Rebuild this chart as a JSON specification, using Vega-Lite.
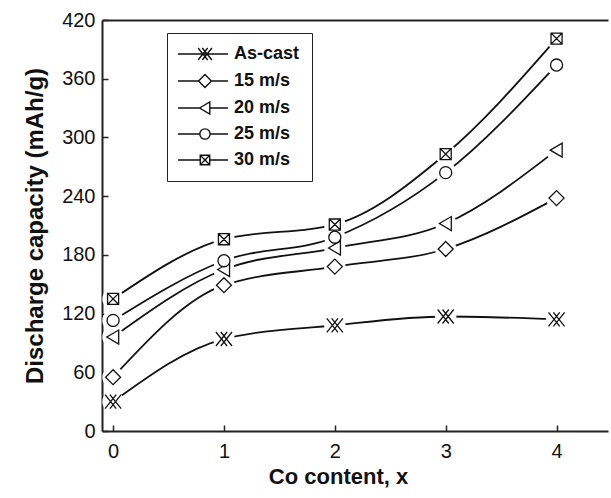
{
  "$schema": "https://vega.github.io/schema/vega-lite/v6.json",
  "width": 506,
  "height": 411,
  "autosize": {"type": "none"},
  "padding": {"left": 102, "top": 20, "right": 3, "bottom": 67},
  "background": "white",
  "config": {
    "view": {"stroke": "transparent", "strokeWidth": 0},
    "font": "Liberation Sans",
    "axis": {
      "domainColor": "#222", "domainWidth": 2,
      "tickColor": "#222", "tickWidth": 1.5, "tickSize": -6,
      "labelFont": "Liberation Sans", "labelFontSize": 20, "labelColor": "#111",
      "titleFont": "Liberation Sans", "titleFontSize": 22, "titleFontWeight": "bold", "titleColor": "#111",
      "grid": false, "zindex": 1
    }
  },
  "data": {"values": [
    {"x": 0, "series": "As-cast", "y": 30},
    {"x": 1, "series": "As-cast", "y": 94},
    {"x": 2, "series": "As-cast", "y": 108},
    {"x": 3, "series": "As-cast", "y": 117},
    {"x": 4, "series": "As-cast", "y": 114},
    {"x": 0, "series": "15 m/s", "y": 55},
    {"x": 1, "series": "15 m/s", "y": 149},
    {"x": 2, "series": "15 m/s", "y": 168},
    {"x": 3, "series": "15 m/s", "y": 186},
    {"x": 4, "series": "15 m/s", "y": 238},
    {"x": 0, "series": "20 m/s", "y": 96},
    {"x": 1, "series": "20 m/s", "y": 165},
    {"x": 2, "series": "20 m/s", "y": 187},
    {"x": 3, "series": "20 m/s", "y": 212},
    {"x": 4, "series": "20 m/s", "y": 287},
    {"x": 0, "series": "25 m/s", "y": 113},
    {"x": 1, "series": "25 m/s", "y": 174},
    {"x": 2, "series": "25 m/s", "y": 198},
    {"x": 3, "series": "25 m/s", "y": 264},
    {"x": 4, "series": "25 m/s", "y": 374},
    {"x": 0, "series": "30 m/s", "y": 135},
    {"x": 1, "series": "30 m/s", "y": 196},
    {"x": 2, "series": "30 m/s", "y": 211},
    {"x": 3, "series": "30 m/s", "y": 283},
    {"x": 4, "series": "30 m/s", "y": 401}
  ]},
  "encoding": {
    "x": {
      "field": "x", "type": "quantitative",
      "scale": {"domain": [-0.1, 4.464], "nice": false, "zero": false},
      "axis": null
    },
    "y": {
      "field": "y", "type": "quantitative",
      "scale": {"domain": [0, 420], "nice": false},
      "axis": {"values": [0, 60, 120, 180, 240, 300, 360, 420], "labelPadding": 13, "titlePadding": 14, "titleFontSize": 24, "title": "Discharge capacity (mAh/g)"}
    }
  },
  "layer": [
    {
      "mark": {"type": "line", "interpolate": "monotone", "color": "#111", "strokeWidth": 1.8},
      "encoding": {
        "x": {
          "field": "x", "type": "quantitative",
          "scale": {"domain": [-0.1, 4.464], "nice": false, "zero": false},
          "axis": {"orient": "bottom", "values": [0, 1, 2, 3, 4], "format": "d", "labelPadding": 16, "titlePadding": 5, "titleX": 236, "title": "Co content, x"}
        },
        "detail": {"field": "series", "type": "nominal"}
      }
    },
    {
      "mark": {"type": "point", "shape": "circle", "filled": true, "color": "white", "size": 460, "opacity": 1},
      "encoding": {
        "x": {
          "field": "x", "type": "quantitative",
          "scale": {"domain": [-0.1, 4.464], "nice": false, "zero": false},
          "axis": {"orient": "top", "labels": false, "ticks": false, "title": null}
        }
      }
    },
    {
      "mark": {"type": "point", "filled": false, "strokeWidth": 1.3, "opacity": 1, "color": "#111", "fill": "white", "size": 196},
      "encoding": {
        "shape": {
          "field": "series", "type": "nominal",
          "scale": {
            "domain": ["As-cast", "15 m/s", "20 m/s", "25 m/s", "30 m/s"],
            "range": [
              "M-1.15,-1L0.45,1M-0.45,-1L1.15,1M1.15,-1L-0.45,1M0.45,-1L-1.15,1",
              "M0,-1.07L1.07,0L0,1.07L-1.07,0Z",
              "M-0.9,0L0.8,-1L0.8,1Z",
              "M0.86,0A0.86,0.86,0,1,1,-0.86,0A0.86,0.86,0,1,1,0.86,0Z",
              "M-0.79,-0.79H0.79V0.79H-0.79ZM-0.79,-0.79L0.79,0.79M0.79,-0.79L-0.79,0.79"
            ]
          },
          "legend": null
        }
      }
    },
    {
      "mark": {"type": "point", "filled": false, "opacity": 0, "color": "#111"},
      "encoding": {
        "shape": {
          "field": "series", "type": "nominal",
          "scale": {
            "domain": ["As-cast", "15 m/s", "20 m/s", "25 m/s", "30 m/s"],
            "range": [
              "M-1.67,0H6.67M1.68,-1L3.28,1M2.38,-1L3.98,1M3.98,-1L2.38,1M3.28,-1L1.68,1",
              "M-1.67,0H1.76M3.9,0H6.67M2.83,-1.07L3.9,0L2.83,1.07L1.76,0Z",
              "M-1.67,0H1.93M3.63,0H6.67M1.93,0L3.63,-1L3.63,1Z",
              "M-1.67,0H1.97M3.69,0H6.67M3.69,0A0.86,0.86,0,1,1,1.97,0A0.86,0.86,0,1,1,3.69,0Z",
              "M-1.67,0H2.04M3.62,0H6.67M2.04,-0.79H3.62V0.79H2.04ZM2.04,-0.79L3.62,0.79M3.62,-0.79L2.04,0.79"
            ]
          },
          "legend": {
            "title": null,
            "orient": "none",
            "legendX": 65,
            "legendY": 13,
            "padding": 12,
            "strokeColor": "#222",
            "fillColor": "white",
            "symbolSize": 144,
            "symbolStrokeColor": "#111",
            "symbolFillColor": "white",
            "symbolStrokeWidth": 1.4,
            "symbolOpacity": 1,
            "labelFont": "Liberation Sans",
            "labelFontSize": 18,
            "labelFontWeight": "bold",
            "labelColor": "#111",
            "labelOffset": 37,
            "rowPadding": 8
          }
        }
      }
    }
  ],
  "resolve": {"scale": {"shape": "independent"}, "axis": {"x": "independent"}}
}
